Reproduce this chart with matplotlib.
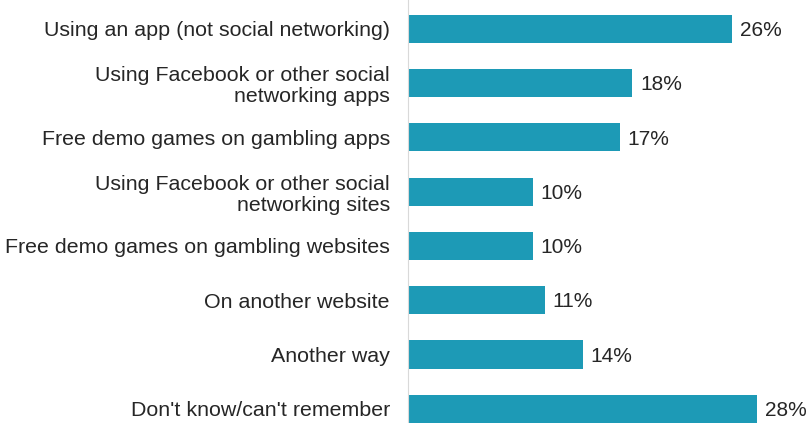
import matplotlib.pyplot as plt

plt.rcParams['font.family'] = ['Liberation Sans', 'DejaVu Sans']

labels = ['Using an app (not social networking)',
          'Using Facebook or other social\nnetworking apps',
          'Free demo games on gambling apps',
          'Using Facebook or other social\nnetworking sites',
          'Free demo games on gambling websites',
          'On another website',
          'Another way',
          "Don't know/can't remember"]
values = [26, 18, 17, 10, 10, 11, 14, 28]

bar_color = '#1d9ab6'
text_color = '#262626'

fig = plt.figure(figsize=(8.07, 4.23), dpi=100)
ax = fig.add_axes([408 / 807, 0, 1 - 408 / 807, 1])

pos = list(range(len(labels)))
ax.barh(pos, values, height=0.52, color=bar_color)
for p, v in zip(pos, values):
    ax.text(v + 0.6, p + 0.03, f'{v}%', va='center', ha='left', fontsize=15, color=text_color)

ax.set_xlim(0, 32)
ax.set_ylim(7.26, -0.53)
ax.set_yticks(pos)
ax.set_yticklabels(labels, fontsize=15.4, color=text_color, linespacing=1.15)
ax.tick_params(axis='y', length=0, pad=13)
ax.set_xticks([])
for s in ['top', 'right', 'bottom']:
    ax.spines[s].set_visible(False)
ax.spines['left'].set_color('#d9d9d9')
ax.spines['left'].set_linewidth(0.8)

fig.savefig('out.png', dpi=100)
